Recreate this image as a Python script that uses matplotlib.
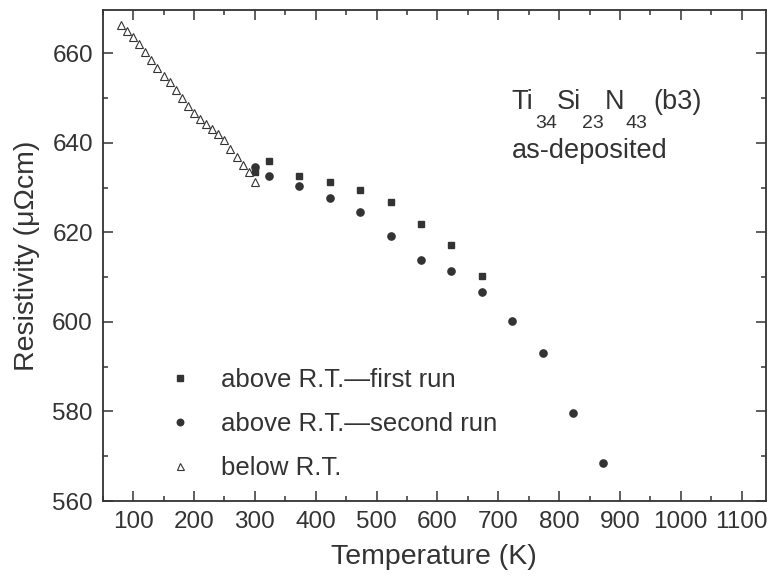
import numpy as np
import matplotlib
matplotlib.use('Agg')
import matplotlib.pyplot as plt
from matplotlib.ticker import MultipleLocator

plt.rcParams['font.family'] = ['Liberation Sans', 'DejaVu Sans']

# below room temperature (open triangles)
T_below = [80, 90, 100, 110, 120, 130, 140, 150, 160, 170, 180, 190,
           200, 210, 220, 230, 240, 250, 260, 270, 280, 290, 300]
rho_below = [666.3, 664.9, 663.6, 662.0, 660.3, 658.5, 656.7, 654.9,
             653.7, 651.8, 650.0, 648.2, 646.7, 645.4, 644.3, 643.1,
             641.9, 640.6, 638.6, 636.9, 635.1, 633.5, 631.3]

# above room temperature, first run (squares)
T_first = [300, 323, 373, 423, 473, 523, 573, 623, 673]
rho_first = [633.6, 636.0, 632.7, 631.2, 629.4, 626.8, 621.8, 617.3, 610.3]

# above room temperature, second run (circles)
T_second = [300, 323, 373, 423, 473, 523, 573, 623, 673, 723, 773, 823, 873]
rho_second = [634.6, 632.6, 630.4, 627.8, 624.6, 619.2, 613.9, 611.4,
              606.6, 600.3, 593.1, 579.7, 568.6]

ink = '#333333'

fig = plt.figure(figsize=(7.72, 5.78), dpi=100)
ax = fig.add_axes([0.133, 0.1332, 0.8592, 0.8495])

ax.plot(T_first, rho_first, ls='none', marker='s', ms=4.2, color=ink,
        label='above R.T.\u2014first run')
ax.plot(T_second, rho_second, ls='none', marker='o', ms=5.2, color=ink,
        label='above R.T.\u2014second run')
ax.plot(T_below, rho_below, ls='none', marker='^', ms=5.6, mfc='white',
        mec=ink, mew=0.8, label='below R.T.')

ax.set_xlim(50, 1140)
ax.set_ylim(560, 669.7)
ax.xaxis.set_major_locator(MultipleLocator(100))
ax.xaxis.set_minor_locator(MultipleLocator(50))
ax.yaxis.set_major_locator(MultipleLocator(20))
ax.yaxis.set_minor_locator(MultipleLocator(10))
ax.tick_params(which='both', direction='in', top=True, right=True,
               colors=ink, labelsize=17.5, width=1.1, pad=7)
ax.tick_params(which='major', length=7)
ax.tick_params(which='minor', length=3.5)
for s in ax.spines.values():
    s.set_color(ink)
    s.set_linewidth(1.3)

ax.set_xlabel('Temperature (K)', fontsize=20.5, color=ink, labelpad=8)
ax.set_ylabel('Resistivity (\u03bc\u03a9cm)', fontsize=20.5, color=ink, labelpad=9)

# composition label, subscripts set well below the baseline
big = 19.5
small = 14
base_y = 0.798
sub_y = 0.759
for txt, x, y, fs in [('Ti', 0.6166, base_y, big), ('34', 0.6517, sub_y, small),
                      ('Si', 0.6849, base_y, big), ('23', 0.7221, sub_y, small),
                      ('N', 0.7573, base_y, big), ('43', 0.7880, sub_y, small),
                      ('(b3)', 0.8296, base_y, big)]:
    ax.text(x, y, txt, transform=ax.transAxes, fontsize=fs, color=ink,
            va='baseline', ha='left')
ax.text(0.6166, 0.699, 'as-deposited', transform=ax.transAxes,
        fontsize=big, color=ink, va='baseline', ha='left')

leg = ax.legend(loc='upper left', bbox_to_anchor=(0.097, 0.271), frameon=False,
                fontsize=18.5, handlelength=1.0, handletextpad=1.12,
                labelspacing=0.78, borderpad=0, borderaxespad=0,
                markerscale=0.9)
for t in leg.get_texts():
    t.set_color(ink)

fig.savefig('out.png', dpi=100)
